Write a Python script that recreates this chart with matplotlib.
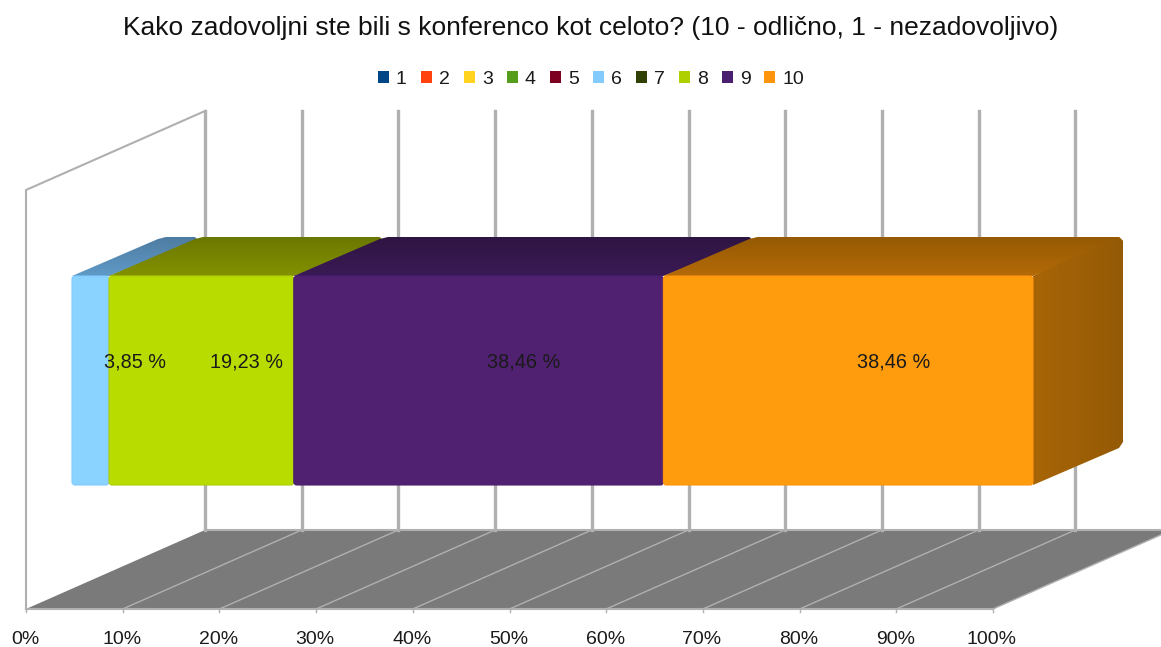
import numpy as np
import matplotlib
matplotlib.use("Agg")
import matplotlib.pyplot as plt
from matplotlib.patches import Polygon, FancyBboxPatch, Patch

plt.rcParams["font.family"] = ["Liberation Sans", "DejaVu Sans"]

title = "Kako zadovoljni ste bili s konferenco kot celoto? (10 - odlično, 1 - nezadovoljivo)"
categories = ["1", "2", "3", "4", "5", "6", "7", "8", "9", "10"]
values = [0, 0, 0, 0, 0, 3.85, 0, 19.23, 38.46, 38.46]
tick_values = [0, 10, 20, 30, 40, 50, 60, 70, 80, 90, 100]
colors = ["#004586", "#ff420e", "#ffd320", "#579d1c", "#7e0021",
          "#83caff", "#314004", "#aecf00", "#4b1f6f", "#ff950e"]
front_colors = ["#004586", "#ff420e", "#ffd320", "#579d1c", "#7e0021",
                "#8ad2ff", "#314004", "#b8dc00", "#4f2170", "#ff9c0e"]
top_dark = ["#002a50", "#99280a", "#997f13", "#345e11", "#4c0014",
            "#4f7ca1", "#1e2702", "#6b7800", "#2f1542", "#955a03"]
top_light = ["#00366a", "#bf320b", "#bf9e18", "#417615", "#5e0019",
             "#5f9ac8", "#253003", "#839100", "#3a1a55", "#b46a08"]

# front plane of the 3d box, in pixels
x0, y_floor = 26, 609
x_scale = 9.67
depth_x, depth_y = 179, -79
y_wall_top = 190
grid_color = "#b0b0b0"

# the bar sits in the middle of the depth
bar_x0, bar_scale = 72, 9.61
bar_top, bar_bottom = 276, 485
bar_dx, bar_dy = 90, -39
corner = 4  # cut on the back corners, the original has them rounded


def gradient(ax, points, c1, c2, horizontal, zorder):
    # polygon filled with a linear gradient, c1 at the top/left
    points = np.array(points)
    rgb1 = np.array(matplotlib.colors.to_rgb(c1))
    rgb2 = np.array(matplotlib.colors.to_rgb(c2))
    t = np.linspace(0, 1, 64)[:, None]
    img = (rgb1 * (1 - t) + rgb2 * t)[:, None, :]
    if horizontal:
        img = img.transpose(1, 0, 2)
    extent = (points[:, 0].min(), points[:, 0].max(), points[:, 1].max(), points[:, 1].min())
    im = ax.imshow(img, extent=extent, aspect="auto", origin="upper", zorder=zorder)
    clip = Polygon(points, closed=True, transform=ax.transData)
    im.set_clip_path(clip)


fig = plt.figure(figsize=(11.61, 6.47), dpi=100)
ax = fig.add_axes([0, 0, 1, 1])

# floor
floor = [(x0, y_floor), (x0 + 100 * x_scale, y_floor),
         (x0 + 100 * x_scale + depth_x, y_floor + depth_y), (x0 + depth_x, y_floor + depth_y)]
ax.add_patch(Polygon(floor, closed=True, facecolor="#7a7a7a", edgecolor="none", zorder=1))

# gridlines on floor and back wall
y_back = y_floor + depth_y
y_back_top = y_wall_top + depth_y
for t in tick_values:
    xf = x0 + t * x_scale
    xb = xf + depth_x
    if t > 0:
        ax.plot([xf, xb], [y_floor, y_back], color=grid_color, lw=1.0, zorder=2)
    ax.plot([xb, xb], [y_back, y_back_top], color=grid_color, lw=2.4, zorder=2)
    ax.plot([xf, xf], [y_floor, y_floor + 3], color=grid_color, lw=1.0, zorder=2)
    ax.text(xf - 1, 639, f"{t}%", ha="center", va="center", fontsize=14, color="#1a1a1a")
ax.plot([x0 + depth_x, x0 + 100 * x_scale + depth_x], [y_back, y_back], color=grid_color, lw=1.5, zorder=2)
ax.plot([x0, x0 + 100 * x_scale], [y_floor, y_floor], color=grid_color, lw=1.5, zorder=2)

# left wall
ax.plot([x0 + depth_x, x0, x0], [y_back_top, y_wall_top, y_floor], color=grid_color, lw=1.5, zorder=2)

# stacked bars, later ones cover the earlier ones
start = 0
z = 3
last = max(i for i, v in enumerate(values) if v > 0)
for i, v in enumerate(values):
    if v == 0:
        continue
    xa = bar_x0 + start * bar_scale
    xb = bar_x0 + (start + v) * bar_scale
    y_top_back = bar_top + bar_dy
    top = [(xa, bar_top), (xb, bar_top),
           (xb + bar_dx, y_top_back + corner), (xb + bar_dx - corner, y_top_back),
           (xa + bar_dx + corner, y_top_back), (xa + bar_dx - corner, y_top_back + 2)]
    gradient(ax, top, top_dark[i], top_light[i], False, z)
    if i == last:
        side = [(xb, bar_top), (xb + bar_dx - corner, y_top_back),
                (xb + bar_dx, y_top_back + corner),
                (xb + bar_dx, bar_bottom + bar_dy - corner),
                (xb + bar_dx - corner, bar_bottom + bar_dy + 2), (xb, bar_bottom)]
        gradient(ax, side, "#a86507", "#945a05", True, z)
    ax.add_patch(FancyBboxPatch((xa, bar_top), xb - xa, bar_bottom - bar_top,
                                boxstyle="round,pad=0,rounding_size=3",
                                facecolor=front_colors[i], edgecolor=colors[i],
                                lw=0.8, zorder=z + 0.5))
    label = f"{v:.2f} %".replace(".", ",")
    ax.text((xa + xb) / 2 + bar_dx / 2, (bar_top + bar_bottom) / 2 + bar_dy / 2 + 1.5, label,
            ha="center", va="center", fontsize=14.3, color="#1a1a1a", zorder=20)
    start += v
    z += 1

ax.set_xlim(0, 1161)
ax.set_ylim(647, 0)
ax.axis("off")

ax.text(591, 28, title, ha="center", va="center", fontsize=19, color="#111111")

handles = [Patch(facecolor=c, edgecolor="none", label=n) for c, n in zip(colors, categories)]
fig.legend(handles=handles, ncol=10, loc="center", bbox_to_anchor=(591 / 1161, 1 - 79 / 647),
           frameon=False, fontsize=14, handlelength=0.57, handleheight=0.57,
           handletextpad=0.36, columnspacing=0.72, labelcolor="#1a1a1a")

fig.savefig("out.png", dpi=100)
